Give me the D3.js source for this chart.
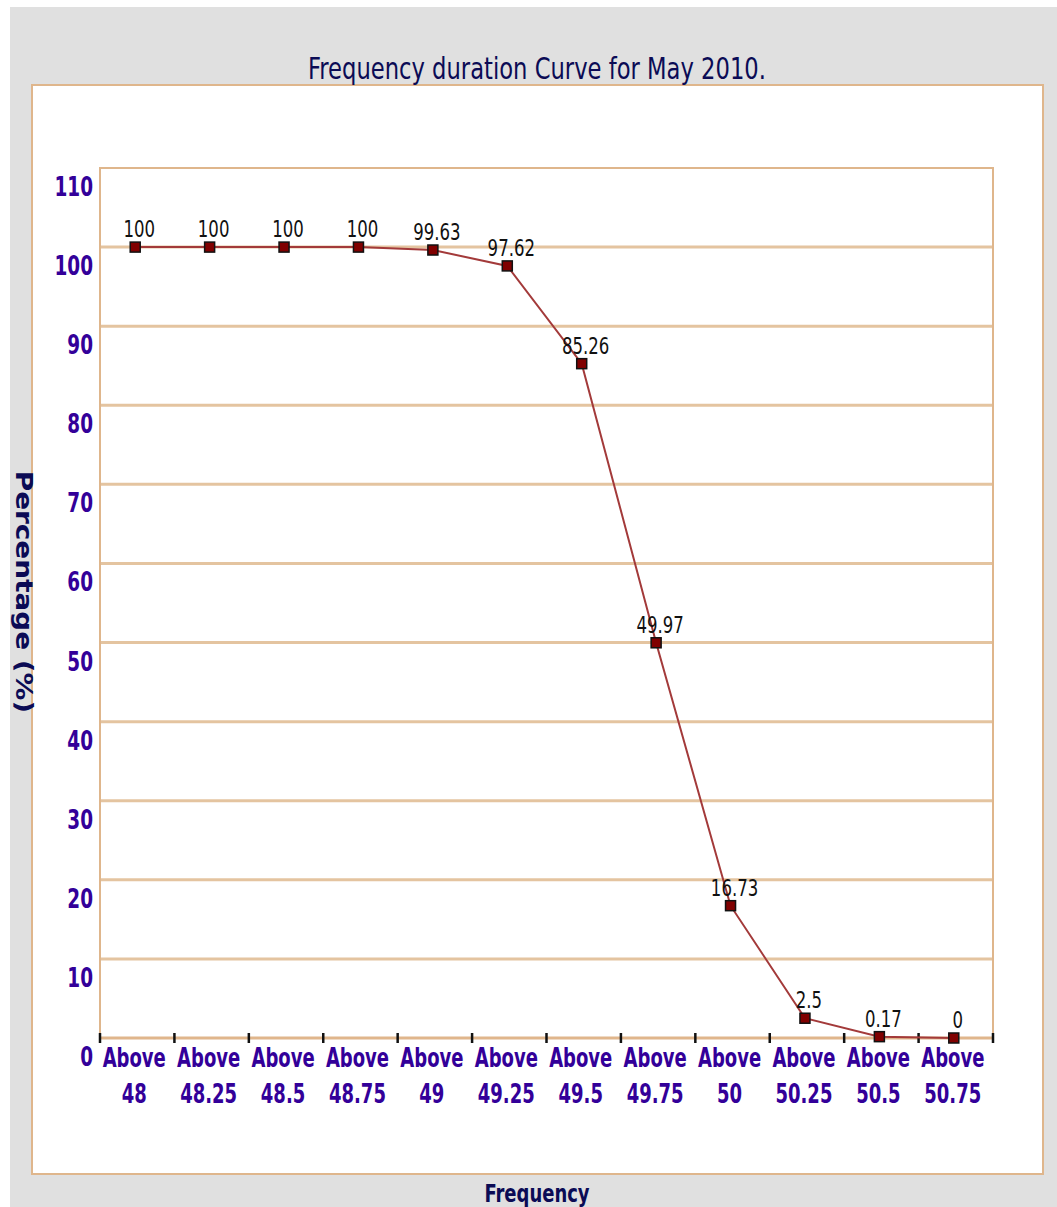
<!DOCTYPE html>
<html>
<head>
<meta charset="utf-8">
<script src="https://d3js.org/d3.v7.min.js"></script>
<style>
  body { margin: 0; background: #fff; }
  text { font-family: "DejaVu Sans Condensed", "DejaVu Sans", sans-serif; }
</style>
</head>
<body>
<script>
// categories along the x axis (two-line labels)
const categories = ["48", "48.25", "48.5", "48.75", "49", "49.25", "49.5", "49.75", "50", "50.25", "50.5", "50.75"];
// percentage of time frequency stayed above each value
const percent = [100, 100, 100, 100, 99.63, 97.62, 85.26, 49.97, 16.73, 2.5, 0.17, 0];
const yTicks = [0, 10, 20, 30, 40, 50, 60, 70, 80, 90, 100, 110];

const W = 1057, H = 1207;
const plot = {left: 100, top: 168, right: 993, bottom: 1038};

const svg = d3.select("body").append("svg")
  .attr("width", W)
  .attr("height", H);

// the original picture is squeezed horizontally, so text gets a narrow scale
const squeeze = (px, py, sx) => `translate(${px},${py}) scale(${sx},1)`;

// gray backdrop and white panel
svg.append("rect").attr("x", 10).attr("y", 7).attr("width", W - 10).attr("height", H - 7).attr("fill", "#e0e0e0");
svg.append("rect").attr("x", 32).attr("y", 85).attr("width", 1011).attr("height", 1089)
  .attr("fill", "#fff").attr("stroke", "#dfb68c").attr("stroke-width", 2);

const x = d3.scaleBand()
  .domain(categories)
  .range([plot.left, plot.right]);

const y = d3.scaleLinear()
  .domain([0, 110])
  .range([plot.bottom, plot.top]);

const cx = d => x(d) + x.bandwidth() / 2 - 2;

// horizontal grid lines
svg.append("g")
  .selectAll("line")
  .data(yTicks.filter(d => d > 0 && d < 110))
  .join("line")
  .attr("x1", plot.left).attr("x2", plot.right)
  .attr("y1", d => y(d)).attr("y2", d => y(d))
  .attr("stroke", "#e4c4a0").attr("stroke-width", 3);

// plot frame (top, left, right)
svg.append("path")
  .attr("d", `M${plot.left},${plot.bottom} V${y(110)} H${plot.right} V${plot.bottom}`)
  .attr("fill", "none").attr("stroke", "#dfb68c").attr("stroke-width", 2);

// x axis line
svg.append("line")
  .attr("x1", plot.left).attr("x2", plot.right)
  .attr("y1", plot.bottom).attr("y2", plot.bottom)
  .attr("stroke", "#e0b68c").attr("stroke-width", 3);

// tick marks at band edges
const edges = categories.map(d => x(d)).concat([x(categories[categories.length - 1]) + x.bandwidth()]);
svg.append("g")
  .selectAll("line")
  .data(edges)
  .join("line")
  .attr("x1", d => d).attr("x2", d => d)
  .attr("y1", plot.bottom - 5).attr("y2", plot.bottom + 5)
  .attr("stroke", "#111").attr("stroke-width", 2.5);

// y tick labels (sit just below their line)
svg.append("g")
  .selectAll("text")
  .data(yTicks)
  .join("text")
  .attr("transform", d => squeeze(93, y(d) + 28, 0.76))
  .attr("text-anchor", "end")
  .attr("fill", "#330099")
  .attr("font-weight", "bold")
  .attr("font-size", 27)
  .text(d => d);

// x tick labels
const xl = svg.append("g")
  .selectAll("text")
  .data(categories)
  .join("text")
  .attr("transform", d => squeeze(cx(d) - 1, 0, 0.77))
  .attr("text-anchor", "middle")
  .attr("fill", "#330099")
  .attr("font-weight", "bold")
  .attr("font-size", 26);
xl.append("tspan").attr("x", 0).attr("y", 1067).text("Above");
xl.append("tspan").attr("x", 0).attr("y", 1103).text(d => d);

// series line
const pts = categories.map((c, i) => ({c: c, v: percent[i]}));
svg.append("path")
  .datum(pts)
  .attr("fill", "none")
  .attr("stroke", "#a33a3a")
  .attr("stroke-width", 2)
  .attr("d", d3.line().x(d => cx(d.c)).y(d => y(d.v)));

// square markers
svg.append("g")
  .selectAll("rect")
  .data(pts)
  .join("rect")
  .attr("x", d => cx(d.c) - 5)
  .attr("y", d => y(d.v) - 5)
  .attr("width", 10).attr("height", 10)
  .attr("fill", "#800000").attr("stroke", "#111").attr("stroke-width", 1.5);

// value labels
svg.append("g")
  .selectAll("text")
  .data(pts)
  .join("text")
  .attr("transform", d => squeeze(cx(d.c) + 4, y(d.v) - 10, 0.8))
  .attr("text-anchor", "middle")
  .attr("fill", "#111")
  .attr("font-size", 23)
  .text(d => d.v);

// titles
svg.append("text")
  .attr("transform", squeeze(537, 79, 0.84))
  .attr("text-anchor", "middle")
  .attr("fill", "#0b0b55")
  .attr("font-size", 30)
  .text("Frequency duration Curve for May 2010.");

svg.append("text")
  .attr("transform", squeeze(537, 1202, 0.8))
  .attr("text-anchor", "middle")
  .attr("fill", "#0b0b55")
  .attr("font-weight", "bold")
  .attr("font-size", 25)
  .text("Frequency");

svg.append("text")
  .attr("transform", "translate(16,592) rotate(90) scale(1,0.72)")
  .attr("text-anchor", "middle")
  .attr("fill", "#0b0b55")
  .attr("font-weight", "bold")
  .attr("font-size", 31)
  .text("Percentage (%)");
</script>
</body>
</html>
